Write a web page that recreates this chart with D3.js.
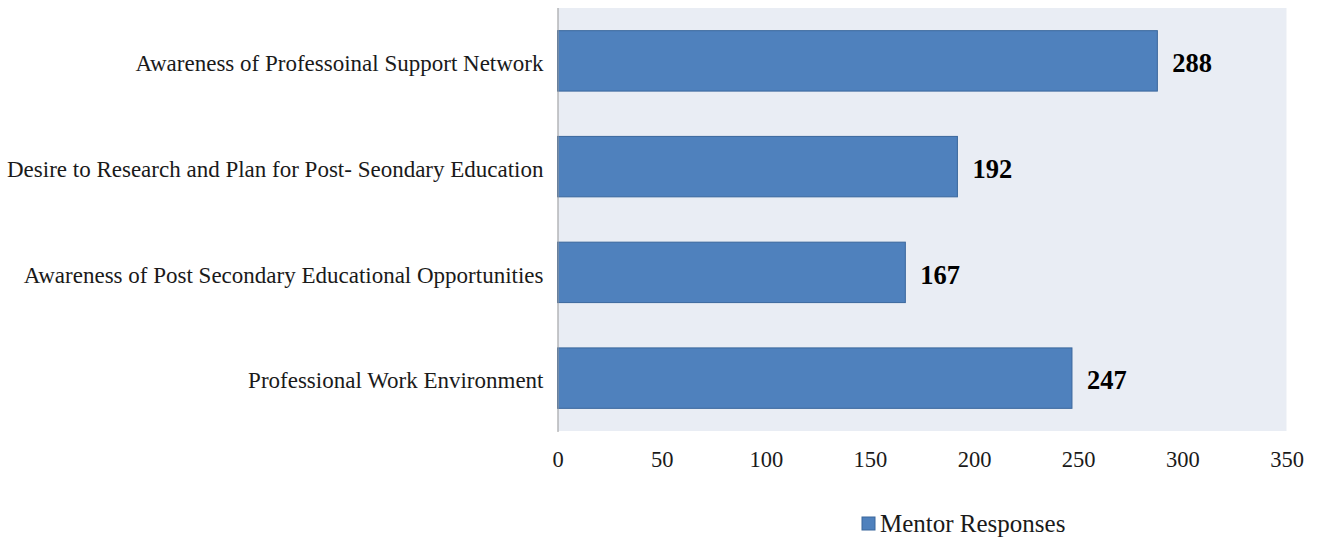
<!DOCTYPE html>
<html>
<head>
<meta charset="utf-8">
<script src="https://cdn.jsdelivr.net/npm/d3@7"></script>
<style>
  html, body { margin: 0; padding: 0; background: #ffffff; }
  svg { display: block; }
  text { font-family: "Liberation Serif", "Times New Roman", serif; fill: #1a1a1a; }
</style>
</head>
<body>
<svg id="chart" width="1317" height="537"></svg>
<script>
// Survey categories, top to bottom
const categories = [
  "Awareness of Professoinal Support Network",
  "Desire to Research and Plan for Post- Seondary Education",
  "Awareness of Post Secondary Educational Opportunities",
  "Professional Work Environment"
];
// Number of mentor responses per category
const responses = [288, 192, 167, 247];
const xTicks = [0, 50, 100, 150, 200, 250, 300, 350];
const seriesName = "Mentor Responses";

const serif = "Liberation Serif, Times New Roman, serif";
const svg = d3.select("#chart");
const plot = { left: 557.5, right: 1286.5, top: 8, bottom: 431 };

const x = d3.scaleLinear().domain([0, 350]).range([plot.left, plot.right]);
const y = d3.scaleBand().domain(categories).range([plot.top, plot.bottom])
  .paddingInner(0.4286).paddingOuter(0.2143);

// Plot area background
svg.append("rect")
  .attr("x", plot.left).attr("y", plot.top)
  .attr("width", plot.right - plot.left).attr("height", plot.bottom - plot.top)
  .attr("fill", "#E9EDF4");

// Bars
svg.append("g").selectAll("rect")
  .data(categories)
  .join("rect")
  .attr("x", x(0))
  .attr("y", d => y(d))
  .attr("width", (d, i) => x(responses[i]) - x(0))
  .attr("height", y.bandwidth())
  .attr("fill", "#4F81BD")
  .attr("stroke", "#3A679C")
  .attr("stroke-width", 1);

// Value labels
svg.append("g").selectAll("text")
  .data(categories)
  .join("text")
  .attr("x", (d, i) => x(responses[i]) + 15)
  .attr("y", d => y(d) + y.bandwidth() / 2 + 2)
  .attr("dy", "0.35em")
  .attr("font-size", 26.5)
  .attr("font-weight", "bold")
  .style("fill", "#000")
  .text((d, i) => responses[i]);

// Category axis (left)
const yAxis = svg.append("g")
  .attr("transform", `translate(${plot.left},0)`)
  .call(d3.axisLeft(y).tickSize(0).tickPadding(14));
yAxis.select(".domain").attr("stroke", "#9a9a9a").attr("d", `M0.5,${plot.top}V${plot.bottom + 1}`);
yAxis.selectAll("text")
  .attr("font-size", 23).attr("font-family", serif)
  .attr("dy", "0.45em")
  .style("fill", "#1a1a1a");

// Value axis (bottom), labels only
const xAxis = svg.append("g")
  .attr("transform", `translate(0,${plot.bottom})`)
  .call(d3.axisBottom(x).tickValues(xTicks).tickSize(0).tickPadding(20));
xAxis.select(".domain").remove();
xAxis.selectAll("text").attr("font-size", 22.5).attr("font-family", serif).style("fill", "#1a1a1a");

// Legend
const legend = svg.append("g").attr("transform", "translate(862,517)");
legend.append("rect")
  .attr("width", 13).attr("height", 13)
  .attr("fill", "#4F81BD").attr("stroke", "#3A679C");
legend.append("text")
  .attr("x", 18).attr("y", 6.5).attr("dy", "0.35em")
  .attr("font-size", 25)
  .text(seriesName);
</script>
</body>
</html>
